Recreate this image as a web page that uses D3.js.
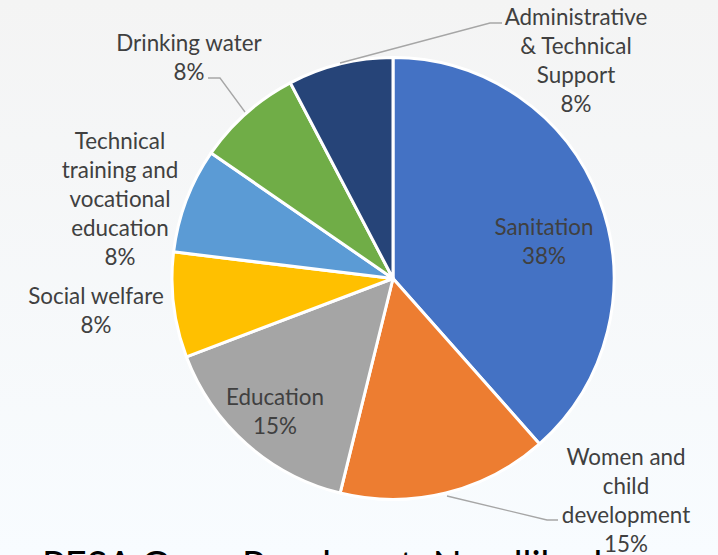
<!DOCTYPE html>
<html><head><meta charset="utf-8">
<script src="https://cdn.jsdelivr.net/npm/d3@7"></script>
<style>html,body{margin:0;padding:0;overflow:hidden;background:#fff}</style>
</head><body>
<script>
const categories = ["Sanitation","Women and child development","Education","Social welfare","Technical training and vocational education","Drinking water","Administrative & Technical Support"];
const values = [5,2,2,1,1,1,1];
const colors = ["#4472C4","#ED7D31","#A5A5A5","#FFC000","#5B9BD5","#70AD47","#264478"];
const labelLines = [["Sanitation"],["Women and","child","development"],["Education"],["Social welfare"],["Technical","training and","vocational","education"],["Drinking water"],["Administrative","& Technical","Support"]];
const titleText = "PESA Gram Panchayat: Nandlikud";

// layout (label anchor = center x, first-line center y)
const labelPos = [[544,227],[626,457],[275,397],[96,296],[120,141],[189,43],[576,17]];
const leaders = [null,[[447,496],[547,520],[558,520]],null,null,null,[[245,112],[220,78],[208,78]],[[340,63],[490,23],[502,23]]];

const W=718,H=555, cx=393, cy=278.5, R=221;
const svg=d3.select("body").append("svg").attr("width",W).attr("height",H);
const defs=svg.append("defs");
const g=defs.append("linearGradient").attr("id","bg").attr("x1",0).attr("y1",0).attr("x2",0).attr("y2",1);
g.append("stop").attr("offset","0%").attr("stop-color","#f4f4f4");
g.append("stop").attr("offset","100%").attr("stop-color","#f8fcff");
svg.append("rect").attr("width",W).attr("height",H).attr("fill","url(#bg)");

svg.append("text").attr("x",42).attr("y",579).attr("font-family","Lato, sans-serif")
  .attr("font-size",38).attr("fill","#000").text(titleText);

const total=d3.sum(values);
const pie=d3.pie().sort(null).value(d=>d);
const arc=d3.arc().innerRadius(0).outerRadius(R);
const arcs=pie(values);
const pg=svg.append("g").attr("transform",`translate(${cx},${cy})`);
pg.selectAll("path").data(arcs).join("path").attr("d",arc)
  .attr("fill",(d,i)=>colors[i]).attr("stroke","#fff").attr("stroke-width",3).attr("stroke-linejoin","round");

const line=d3.line();
leaders.forEach(l=>{ if(l) svg.append("path").attr("d",line(l)).attr("fill","none").attr("stroke","#a6a6a6").attr("stroke-width",1.3); });

const lh=29;
arcs.forEach((d,i)=>{
  const pct=Math.round(d.value/total*100)+"%";
  const lines=labelLines[i].concat([pct]);
  const [x,y]=labelPos[i];
  const t=svg.append("text").attr("font-family","Lato, sans-serif").attr("font-size",22.4).attr("fill","#404040").attr("text-anchor","middle");
  lines.forEach((s,k)=>t.append("tspan").attr("x",x).attr("y",y+k*lh).attr("dy","0.35em").text(s));
});
</script>
</body></html>
